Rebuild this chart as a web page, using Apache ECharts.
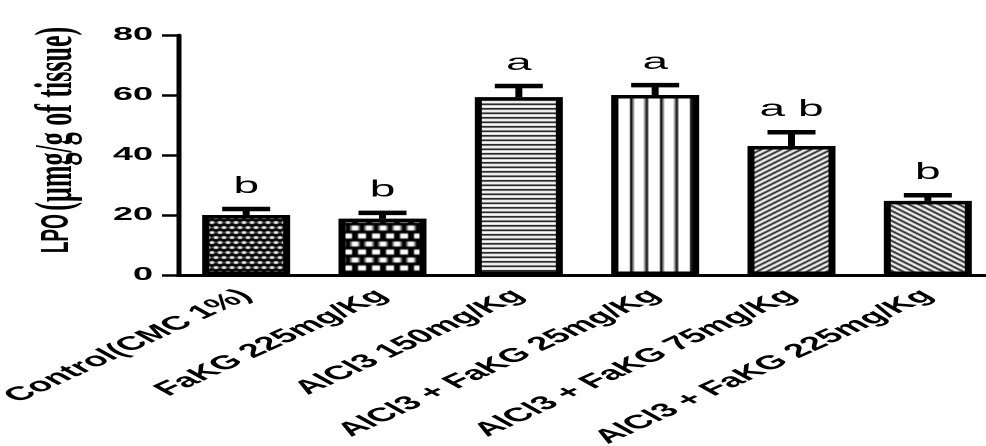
<!DOCTYPE html>
<html><head><meta charset="utf-8">
<script src="https://cdn.jsdelivr.net/npm/echarts@6/dist/echarts.min.js"></script>
<style>
html,body{margin:0;padding:0;background:#fff;overflow:hidden;width:986px;height:446px}
#c{width:493px;height:446px;transform:scaleX(2);transform-origin:0 0;}
</style>
</head><body><div id="c"></div>
<script>
// ---- data ----
const categories = ['Control(CMC 1%)', 'FaKG 225mg/Kg', 'AlCl3 150mg/Kg', 'AlCl3 + FaKG 25mg/Kg', 'AlCl3 + FaKG 75mg/Kg', 'AlCl3 + FaKG 225mg/Kg'];
const means = [20.0, 18.8, 59.3, 60.0, 43.0, 24.7];
const errorTops = [22.0, 20.7, 63.0, 63.3, 47.6, 26.6];
const letters = ['b', 'b', 'a', 'a', 'a b', 'b'];
const yTicks = [0, 20, 40, 60, 80];

// ---- fill patterns (hatching as in the original figure) ----
function tile(w, h, bg, draw) {
  const c = document.createElement('canvas');
  c.width = w; c.height = h;
  const g = c.getContext('2d');
  g.fillStyle = bg; g.fillRect(0, 0, w, h);
  draw(g, w, h);
  return { image: c, repeat: 'repeat' };
}
const patterns = [
  // fine oval dots
  tile(8, 10, '#000', (g) => {
    g.fillStyle = '#fff';
    [[2, 2.5], [6, 2.5], [0, 7.5], [4, 7.5], [8, 7.5]].forEach(([x, y]) => {
      g.beginPath(); g.ellipse(x, y, 1.35, 1.5, 0, 0, Math.PI * 2); g.fill();
    });
  }),
  // coarse checker
  tile(14, 16, '#000', (g) => {
    g.fillStyle = '#fff';
    [[0.5, 1.5], [7.5, 1.5], [4, 9.5], [11, 9.5], [-3, 9.5]].forEach(([x, y]) => g.fillRect(x, y, 4, 5));
  }),
  // horizontal lines
  tile(4, 9, '#fff', (g) => {
    g.fillStyle = '#000';
    g.fillRect(0, 0, 4, 1.6); g.fillRect(0, 4.5, 4, 1.6);
  }),
  // vertical lines
  tile(15, 4, '#fff', (g) => {
    g.fillStyle = '#000';
    g.fillRect(0, 0, 1.5, 4); g.fillRect(7.5, 0, 1.5, 4);
  }),
  // rising diagonals
  tile(5, 5, '#fff', (g, w, h) => {
    g.strokeStyle = '#000'; g.lineWidth = 1.4;
    g.beginPath();
    g.moveTo(-1, h + 1); g.lineTo(w + 1, -1);
    g.moveTo(-1, 1); g.lineTo(1, -1);
    g.moveTo(w - 1, h + 1); g.lineTo(w + 1, h - 1);
    g.stroke();
  }),
  // falling diagonals
  tile(5, 5, '#fff', (g, w, h) => {
    g.strokeStyle = '#000'; g.lineWidth = 1.4;
    g.beginPath();
    g.moveTo(-1, -1); g.lineTo(w + 1, h + 1);
    g.moveTo(w - 1, -1); g.lineTo(w + 1, 1);
    g.moveTo(-1, h - 1); g.lineTo(1, h + 1);
    g.stroke();
  })
];

const chart = echarts.init(document.getElementById('c'), null, { renderer: 'canvas', devicePixelRatio: 2 });

const barData = means.map((v, i) => ({
  value: v,
  itemStyle: { color: patterns[i], borderColor: '#000', borderWidth: 3.5 }
}));

chart.setOption({
  backgroundColor: '#fff',
  animation: false,
  grid: { left: 89, top: 35, width: 409, bottom: 171, containLabel: false, outerBoundsMode: 'none' },
  xAxis: {
    type: 'category',
    data: categories,
    axisLine: { lineStyle: { color: '#000', width: 3 } },
    axisTick: { alignWithLabel: true, length: 5, lineStyle: { color: '#000', width: 2 } },
    axisLabel: {
      interval: 0, rotate: 42, margin: 18, color: '#000',
      fontFamily: 'Liberation Sans', fontWeight: 'bold', fontSize: 19.3
    },
    splitLine: { show: false }
  },
  yAxis: {
    type: 'value',
    min: yTicks[0], max: yTicks[yTicks.length - 1], interval: yTicks[1] - yTicks[0],
    axisLine: { show: true, lineStyle: { color: '#000', width: 2.5 } },
    axisTick: { show: true, inside: false, length: 8, lineStyle: { color: '#000', width: 2.5 } },
    axisLabel: { margin: 12.5, color: '#000', fontFamily: 'Liberation Sans', fontWeight: 'bold', fontSize: 18 },
    splitLine: { show: false }
  },
  graphic: [{
    type: 'text',
    x: 29, y: 140,
    rotation: Math.PI / 2,
    style: {
      text: '{a|LPO} {b|(µmg/g of tissue)}',
      rich: {
        a: { font: 'bold 19px "Liberation Sans"', fill: '#000' },
        b: { font: 'bold 26px "Liberation Serif"', fill: '#000' }
      },
      align: 'center', verticalAlign: 'middle',
      textAlign: 'center', textVerticalAlign: 'middle',
      fill: '#000'
    }
  }],
  series: [
    {
      type: 'bar',
      data: barData,
      barWidth: 44,
      z: 2
    },
    {
      type: 'custom',
      z: 5,
      data: means.map((m, i) => [i, m, errorTops[i]]),
      renderItem: function (params, api) {
        const i = api.value(0);
        const base = api.coord([i, api.value(1)]);
        const top = api.coord([i, api.value(2)]);
        const x = base[0];
        return {
          type: 'group',
          children: [
            { type: 'line', shape: { x1: x, y1: base[1], x2: x, y2: top[1] }, style: { stroke: '#000', lineWidth: 3.5 } },
            { type: 'line', shape: { x1: x - 12, y1: top[1], x2: x + 12, y2: top[1] }, style: { stroke: '#000', lineWidth: 4.5 } },
            {
              type: 'text', x: x, y: top[1] - 11,
              style: {
                text: letters[i], fill: '#000',
                font: '23px "Liberation Sans"',
                align: 'center', verticalAlign: 'bottom',
                textAlign: 'center', textVerticalAlign: 'bottom'
              }
            }
          ]
        };
      }
    }
  ]
});
</script>
</body></html>
